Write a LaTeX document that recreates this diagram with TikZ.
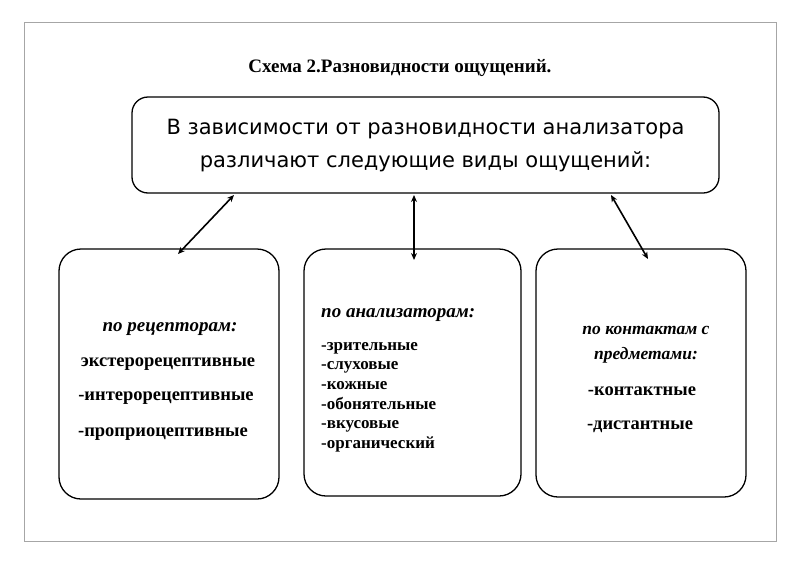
\documentclass[tikz,border=0pt]{standalone}
\usepackage{fontspec}
\setmainfont{Liberation Serif}
\newfontfamily\boxsans{DejaVu Sans}
\usetikzlibrary{arrows.meta}
\begin{document}
\begin{tikzpicture}[x=1pt,y=-1pt,
  card/.style={draw,line width=1.3pt,rounded corners=22pt},
  dbl/.style={{Stealth[length=7pt,width=6pt]}-{Stealth[length=7pt,width=6pt]},line width=1.6pt},
  txt/.style={font=\fontsize{18.5}{22}\selectfont\bfseries,inner sep=0pt,anchor=base},
  itx/.style={font=\fontsize{19}{22}\selectfont\bfseries\itshape,inner sep=0pt,anchor=base},
  lst/.style={font=\fontsize{17}{20}\selectfont\bfseries,inner sep=0pt,anchor=base west}]
\useasboundingbox (0,0) rectangle (800,565);
\draw[gray!70,line width=1pt] (24,22) rectangle (776,541);
\node[font=\fontsize{19}{22}\selectfont\bfseries,anchor=base] (title) at (400,72) {Схема 2.Разновидности ощущений.};
\node[card,minimum width=587pt,minimum height=96pt,rounded corners=16pt] (top) at (425.5,145) {};
\node[font=\boxsans\fontsize{21}{33}\selectfont,align=center] (toptext) at (425.5,146) {В зависимости от разновидности анализатора\\различают следующие виды ощущений:};
\node[card,minimum width=220pt,minimum height=250pt] (b1) at (169,374) {};
\node[card,minimum width=217pt,minimum height=247pt] (b2) at (412.5,372.5) {};
\node[card,minimum width=210pt,minimum height=248pt] (b3) at (641,373) {};
\coordinate (a1s) at (234,195); \coordinate (a1e) at (178,254);
\coordinate (a2s) at (414,195); \coordinate (a2e) at (414,260);
\coordinate (a3s) at (611,195); \coordinate (a3e) at (648,259);
\draw[dbl] (a1s) -- (a1e);
\draw[dbl] (a2s) -- (a2e);
\draw[dbl] (a3s) -- (a3e);
\node[itx] (l1) at (170,331) {по рецепторам:};
\node[txt] (l2) at (168,366) {экстерорецептивные};
\node[txt] (l3) at (166,400) {-интерорецептивные};
\node[txt] (l4) at (163,436) {-проприоцептивные};
\node[itx,anchor=base west] (m1) at (321,317) {по анализаторам:};
\node[lst] (m2) at (321,350) {-зрительные};
\node[lst] (m3) at (321,369.5) {-слуховые};
\node[lst] (m4) at (321,389) {-кожные};
\node[lst] (m5) at (321,409) {-обонятельные};
\node[lst] (m6) at (321,428.5) {-вкусовые};
\node[lst] (m7) at (321,448) {-органический};
\node[itx,font=\fontsize{17.5}{20}\selectfont\bfseries\itshape] (r1) at (646,334) {по контактам с};
\node[itx,font=\fontsize{17.5}{20}\selectfont\bfseries\itshape] (r2) at (646,359) {предметами:};
\node[txt] (r3) at (642,395) {-контактные};
\node[txt] (r4) at (640,429) {-дистантные};
\end{tikzpicture}
\end{document}
